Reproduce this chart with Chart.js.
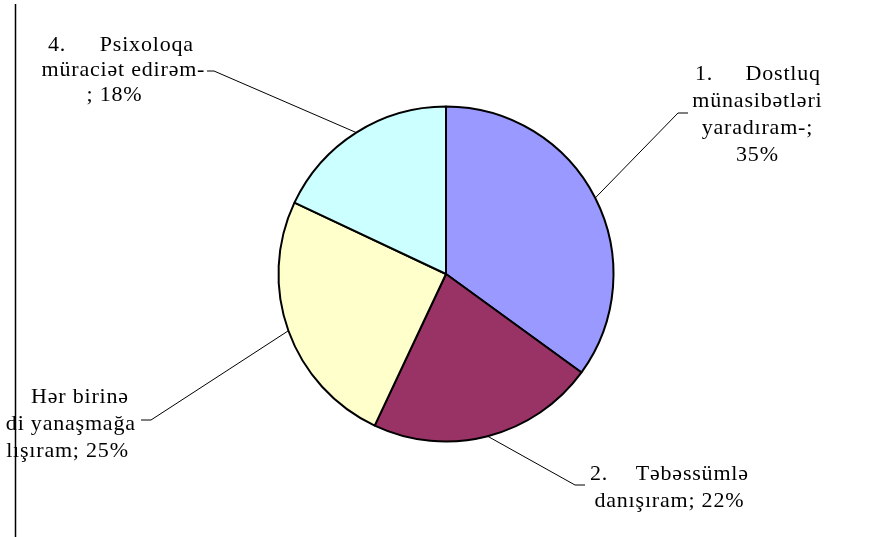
<!DOCTYPE html>
<html>
<head>
<meta charset="utf-8">
<script src="https://cdn.jsdelivr.net/npm/chart.js@4"></script>
<style>
html,body{margin:0;padding:0;background:#fff;}
#wrap{width:873px;height:537px;position:relative;}
</style>
</head>
<body>
<div id="wrap"><canvas id="c" width="873" height="537"></canvas></div>
<script>
// ---- data ----
const categories = [
  "1. Dostluq münasibətləri yaradıram-",
  "2. Təbəssümlə danışıram",
  "3. Hər birinə fərdi yanaşmağa çalışıram",
  "4. Psixoloqa müraciət edirəm-"
];
const values = [35, 22, 25, 18];
const colors = ["#9999FF", "#993366", "#FFFFCC", "#CCFFFF"];

// label text lines as shown in the picture (justified lines given as [left, right])
const labelLines = [
  [["1.", "Dostluq"], "münasibətləri", "yaradıram-;", values[0] + "%"],
  [["2.", "Təbəssümlə"], "danışıram; " + values[1] + "%"],
  ["Hər birinə", "fərdi yanaşmağa", "çalışıram; " + values[2] + "%"],
  [["4.", "Psixoloqa"], "müraciət edirəm-", "; " + values[3] + "%"]
];

// ---- layout (positions only) ----
const labelLayout = [
  {align: "center", x: 757, left: 695, right: 820, base: [80, 107, 134, 161], elbow: [[688, 113], [678, 113]]},
  {align: "center", x: 669, left: 590, right: 748, base: [480, 507], elbow: [[585, 485], [575, 485]]},
  {align: "right", xs: [128, 135, 128], base: [403, 430, 457], elbow: [[141, 420], [151, 420]]},
  {align: "center", x: 123, xs: [123, 123, 114], left: 48, right: 193, base: [51, 76, 101], elbow: [[207, 71], [214, 71]]}
];

const FONT = '22px "Liberation Serif", "Times New Roman", serif';
const SPACING = 0.8;

const labelPlugin = {
  id: 'labels',
  afterDatasetsDraw(chart) {
    const ctx = chart.ctx;
    const meta = chart.getDatasetMeta(0);
    ctx.save();
    meta.data.forEach((arc, i) => {
      const lay = labelLayout[i];
      const mid = (arc.startAngle + arc.endAngle) / 2;
      const px = arc.x + Math.cos(mid) * arc.outerRadius;
      const py = arc.y + Math.sin(mid) * arc.outerRadius;
      ctx.beginPath();
      ctx.strokeStyle = '#000';
      ctx.lineWidth = 1;
      ctx.moveTo(lay.elbow[0][0], lay.elbow[0][1]);
      ctx.lineTo(lay.elbow[1][0], lay.elbow[1][1]);
      ctx.lineTo(px, py);
      ctx.stroke();
    });
    ctx.beginPath();
    ctx.rect(6, 0, 867, 537);
    ctx.clip();
    ctx.font = FONT;
    ctx.fillStyle = '#000';
    ctx.textBaseline = 'alphabetic';
    ctx.letterSpacing = SPACING + 'px';
    labelLines.forEach((lines, i) => {
      const lay = labelLayout[i];
      lines.forEach((ln, j) => {
        const y = lay.base[j];
        if (Array.isArray(ln)) {
          ctx.textAlign = 'left';
          ctx.fillText(ln[0], lay.left, y);
          ctx.textAlign = 'right';
          ctx.fillText(ln[1], lay.right + SPACING, y);
        } else if (lay.align === 'right') {
          ctx.textAlign = 'right';
          ctx.fillText(ln, lay.xs[j] + SPACING, y);
        } else {
          ctx.textAlign = 'center';
          const x = lay.xs ? lay.xs[j] : lay.x;
          ctx.fillText(ln, x + SPACING / 2, y);
        }
      });
    });
    ctx.restore();
    ctx.save();
    ctx.beginPath();
    ctx.strokeStyle = '#000';
    ctx.lineWidth = 1.5;
    ctx.moveTo(15.5, 4);
    ctx.lineTo(15.5, 537);
    ctx.stroke();
    ctx.restore();
  }
};

new Chart(document.getElementById('c'), {
  type: 'pie',
  data: {
    labels: categories,
    datasets: [{
      data: values,
      backgroundColor: colors,
      borderColor: '#000',
      borderWidth: 2
    }]
  },
  options: {
    responsive: false,
    animation: false,
    layout: {padding: {left: 277.5, right: 258.5, top: 105.5, bottom: 94.5}},
    plugins: {legend: {display: false}, tooltip: {enabled: false}}
  },
  plugins: [labelPlugin]
});
</script>
</body>
</html>
